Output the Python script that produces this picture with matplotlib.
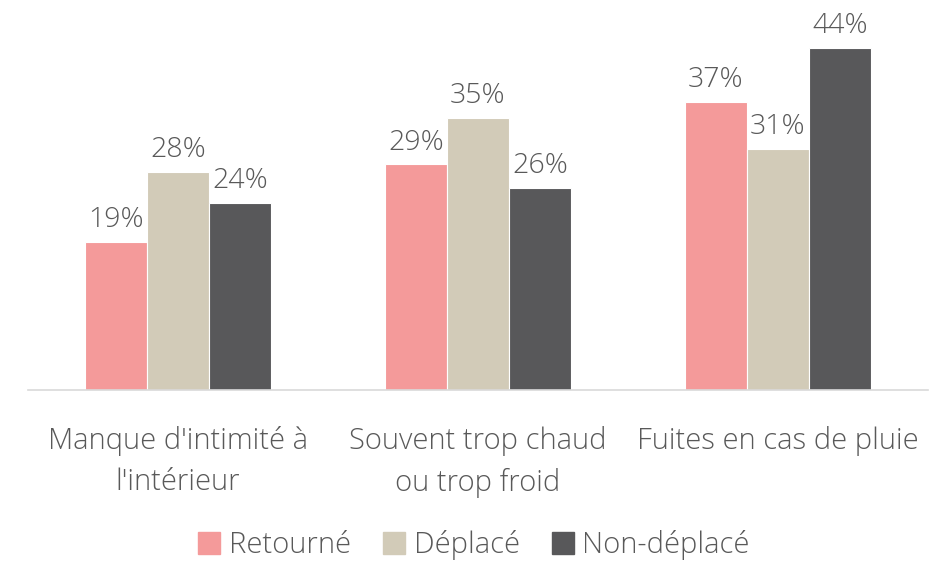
import matplotlib
matplotlib.use("Agg")
import matplotlib.pyplot as plt
import numpy as np
from matplotlib.patches import Patch

categories = ["Manque d'intimité à\nl'intérieur", "Souvent trop chaud\nou trop froid", "Fuites en cas de pluie"]
series = ["Retourné", "Déplacé", "Non-déplacé"]
retourne = [19, 29, 37]
deplace = [28, 35, 31]
non_deplace = [24, 26, 44]
values = [retourne, deplace, non_deplace]
colors = ["#F49A9A", "#D2CBB8", "#58585A"]
text_color = "#595959"

plt.rcParams['font.family'] = ['Open Sans', 'DejaVu Sans']
plt.rcParams['font.weight'] = 'light'

fig = plt.figure(figsize=(9.48, 5.65), dpi=100)
ax = fig.add_axes([28/948, (565-390)/565, 900/948, 389/565])

x = np.arange(len(categories))
w = 0.207
for i, (vals, c) in enumerate(zip(values, colors)):
    pos = x + (i - 1) * w
    ax.bar(pos, vals, width=w, color=c, edgecolor="white", linewidth=0.8, zorder=2)
    for p, v in zip(pos, vals):
        ax.text(p, v + 1.0, f"{v}%", ha="center", va="bottom", fontsize=20.5, color=text_color, fontweight='light')

ax.set_xlim(-0.5, 2.5)
ax.set_ylim(0, 50)
ax.set_yticks([])
ax.set_xticks(x)
ax.set_xticklabels(categories, fontsize=21, color=text_color, fontweight='light', linespacing=1.5)
ax.tick_params(axis='x', length=0, pad=26)
for s in ["top", "right", "left"]:
    ax.spines[s].set_visible(False)
ax.spines["bottom"].set_color("#D9D9D9")
ax.spines["bottom"].set_linewidth(1.2)

handles = [Patch(facecolor=c, edgecolor=c) for c in colors]
leg = fig.legend(handles, series, loc="center", bbox_to_anchor=(0.5, 1 - 545/565), ncol=3,
                 frameon=False, fontsize=21, handlelength=0.75, handleheight=0.75,
                 handletextpad=0.3, columnspacing=1.1)
for t in leg.get_texts():
    t.set_color(text_color)

fig.savefig("out.png", dpi=100)
